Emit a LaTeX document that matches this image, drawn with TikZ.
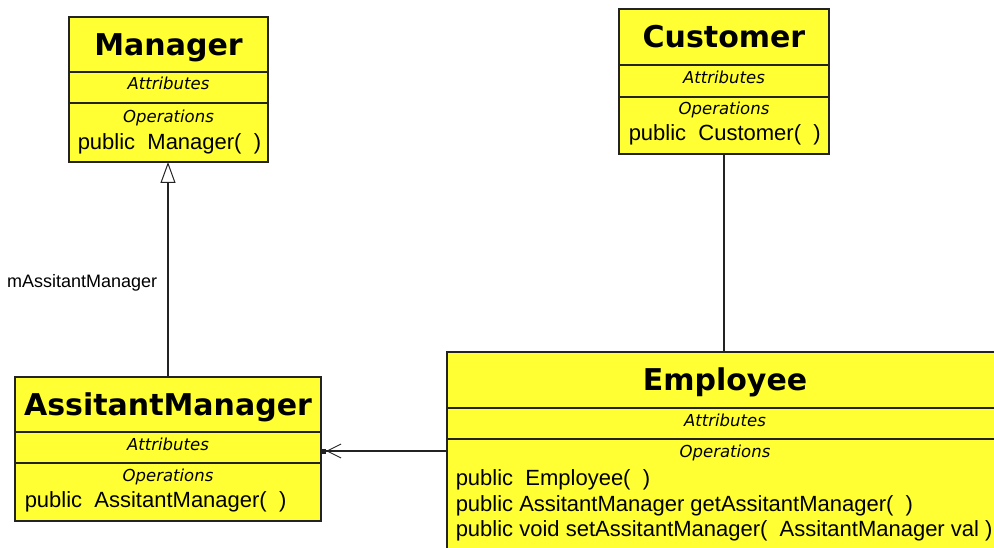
\documentclass[tikz,border=0pt]{standalone}
\usepackage{fontspec}
\setmainfont{Liberation Sans}
\newfontfamily\umltitlefont{DejaVu Sans Bold}
\newfontfamily\umlitfont{DejaVu Sans Oblique}
\usepackage{tikz}
\usetikzlibrary{arrows.meta, positioning}
\definecolor{classyellow}{RGB}{255,255,51}
\definecolor{umlline}{RGB}{35,35,35}
\tikzset{
  compartment/.style={rectangle, draw=umlline, fill=classyellow, line width=1.5pt, inner sep=0pt, outer sep=0pt},
  classname/.style={compartment, font=\umltitlefont\fontsize{30}{36}\selectfont, text height=21.9pt, text depth=0pt},
  attrs/.style={compartment, font=\umlitfont\fontsize{16.5}{20}\selectfont, text height=12pt, text depth=7pt, minimum height=31pt},
  opshead/.style={font=\umlitfont\fontsize{16.5}{20}\selectfont, inner sep=0pt, text height=12pt, text depth=0pt},
  opline/.style={font=\fontsize{22}{26}\selectfont, inner sep=0pt, text height=15.7pt, text depth=0pt, anchor=west},
}

\begin{document}
\begin{tikzpicture}[x=1pt, y=-1pt, line width=1.5pt, draw=umlline]
        \useasboundingbox (0,0) rectangle (994,548);
        \clip (0,0) rectangle (994,548);

        % Manager
        \node[classname, anchor=north west, minimum width=199pt, minimum height=55pt] (mgrName) at (69,17) {Manager};
        \node[attrs, minimum width=199pt, below=0pt of mgrName] (mgrAttr) {Attributes};
        \node[compartment, minimum width=199pt, minimum height=59pt, below=0pt of mgrAttr] (mgrOps) {};
        \node[opshead, below=7pt of mgrOps.north] (mgrOpsHead) {Operations};
        \node[opline] (mgrOp1) at (77,142) {public~~Manager(~~)};

        % Customer
        \node[classname, anchor=north west, minimum width=210pt, minimum height=56pt] (custName) at (619,9) {Customer};
        \node[attrs, minimum width=210pt, minimum height=32pt, below=0pt of custName] (custAttr) {Attributes};
        \node[compartment, minimum width=210pt, minimum height=57pt, below=0pt of custAttr] (custOps) {};
        \node[opshead, below=5pt of custOps.north] (custOpsHead) {Operations};
        \node[opline] (custOp1) at (628,133) {public~~Customer(~~)};

        % AssitantManager
        \node[classname, anchor=north west, minimum width=306pt, minimum height=55pt] (amName) at (15,377) {AssitantManager};
        \node[attrs, minimum width=306pt, below=0pt of amName] (amAttr) {Attributes};
        \node[compartment, minimum width=306pt, minimum height=58pt, below=0pt of amAttr] (amOps) {};
        \node[opshead, below=6pt of amOps.north] (amOpsHead) {Operations};
        \node[opline] (amOp1) at (24,500) {public~~AssitantManager(~~)};

        % Employee
        \node[classname, anchor=north west, minimum width=556pt, minimum height=56pt] (empName) at (447,352) {Employee};
        \node[attrs, minimum width=556pt, below=0pt of empName] (empAttr) {Attributes};
        \node[compartment, minimum width=556pt, minimum height=130pt, below=0pt of empAttr] (empOps) {};
        \node[opshead, below=6pt of empOps.north] (empOpsHead) {Operations};
        \node[opline] (empOp1) at (455,478) {public~~Employee(~~)};
        \node[opline] (empOp2) at (455,504) {public AssitantManager getAssitantManager(~~)};
        \node[opline] (empOp3) at (455,529) {public void setAssitantManager(~~AssitantManager val )};

        % Connectors
        \draw[-{Triangle[open, length=21pt, width=15pt, line width=1pt]}] (amName.north) -- (amName.north |- mgrOps.south)
            node[pos=0.447, left=10pt, inner sep=0pt, font=\fontsize{18}{22}\selectfont, text height=12.9pt, text depth=0pt] (roleLbl) {mAssitantManager};
        \draw (custOps.south) -- (custOps.south |- empName.north);
        \draw[-{Straight Barb[length=14pt, width=14pt, line width=1pt] Square[length=5pt, width=5pt]}] (empOps.west |- 0,451) -- (amAttr.east |- 0,451);
    \end{tikzpicture}
\end{document}
